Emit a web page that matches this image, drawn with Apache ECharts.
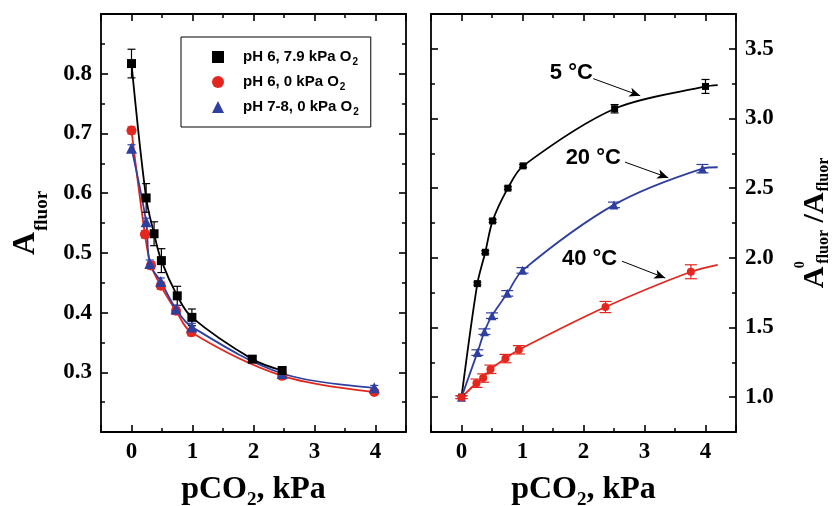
<!DOCTYPE html>
<html><head><meta charset="utf-8">
<script src="https://cdn.jsdelivr.net/npm/echarts@6/dist/echarts.min.js"></script>
<style>html,body{margin:0;padding:0;background:#fff}#c{width:837px;height:506px}</style>
</head><body><div id="c"></div>
<script>
// ---------- Left panel data: A_fluor vs pCO2 ----------
const leftNames = ['pH 6, 7.9 kPa O2', 'pH 6, 0 kPa O2', 'pH 7-8, 0 kPa O2'];
const blkX = [0, 0.24, 0.37, 0.49, 0.75, 0.99, 1.98, 2.47];
const blkY = [0.817, 0.592, 0.532, 0.487, 0.428, 0.392, 0.322, 0.303];
const blkErr = [0.024, 0.024, 0.02, 0.02, 0.016, 0.014, 0.005, 0.005];
const redX = [0, 0.22, 0.32, 0.48, 0.73, 0.98, 2.47, 3.98];
const redY = [0.705, 0.531, 0.479, 0.445, 0.403, 0.367, 0.294, 0.267];
const redErr = [0.006, 0.006, 0.006, 0.006, 0.006, 0.006, 0.005, 0.004];
const bluX = [0, 0.24, 0.30, 0.48, 0.73, 0.99, 2.47, 3.98];
const bluY = [0.675, 0.552, 0.482, 0.452, 0.406, 0.376, 0.298, 0.274];
const bluErr = [0.006, 0.006, 0.006, 0.006, 0.006, 0.006, 0.005, 0.004];

// ---------- Right panel data: A0/A vs pCO2 ----------
const t5X = [0, 0.26, 0.39, 0.51, 0.76, 1.01, 2.51, 4.0];
const t5Y = [1.0, 1.815, 2.04, 2.265, 2.50, 2.66, 3.07, 3.23];
const t5Err = [0.01, 0.01, 0.01, 0.01, 0.01, 0.01, 0.03, 0.05];
const t5End = [4.2, 3.24];
const t20X = [0, 0.26, 0.376, 0.5, 0.75, 1.0, 2.5, 3.95];
const t20Y = [1.0, 1.32, 1.47, 1.585, 1.745, 1.91, 2.38, 2.64];
const t20Err = [0.01, 0.02, 0.02, 0.02, 0.02, 0.02, 0.02, 0.03];
const t20End = [4.2, 2.65];
const t40X = [0, 0.245, 0.355, 0.475, 0.72, 0.94, 2.36, 3.76];
const t40Y = [1.0, 1.10, 1.137, 1.20, 1.277, 1.34, 1.647, 1.90];
const t40Err = [0.01, 0.03, 0.03, 0.03, 0.03, 0.03, 0.04, 0.05];
const t40End = [4.2, 1.95];

// annotations (data coords on right panel)
const annoText = ['5 °C', '20 °C', '40 °C'];
const annoPos = [[1.8, 3.33], [2.16, 2.72], [2.1, 1.99]];
const arrowFrom = [[2.16, 3.286], [2.68, 2.687], [2.63, 1.976]];
const arrowTo = [[2.93, 3.163], [3.39, 2.575], [3.34, 1.855]];

const BLACK = '#000000', RED = '#e3271f', BLUE = '#2f3f9f';
const SERIF = 'Liberation Serif', SANS = 'Liberation Sans';

const zip = (xs, ys) => xs.map((x, i) => [x, ys[i]]);

function errSeries(xi, yi, xs, ys, es, color, cap) {
  return {
    type: 'custom', xAxisIndex: xi, yAxisIndex: yi, silent: true, z: 3,
    data: xs.map((x, i) => [x, ys[i] - es[i], ys[i] + es[i]]),
    renderItem: function (params, api) {
      const lo = api.coord([api.value(0), api.value(1)]);
      const hi = api.coord([api.value(0), api.value(2)]);
      const s = { stroke: color, lineWidth: 1.2 };
      return { type: 'group', children: [
        { type: 'line', shape: { x1: lo[0], y1: lo[1], x2: hi[0], y2: hi[1] }, style: s },
        { type: 'line', shape: { x1: lo[0] - cap, y1: lo[1], x2: lo[0] + cap, y2: lo[1] }, style: s },
        { type: 'line', shape: { x1: hi[0] - cap, y1: hi[1], x2: hi[0] + cap, y2: hi[1] }, style: s }
      ] };
    }
  };
}

const tickLabel = { fontFamily: SERIF, fontWeight: 'bold', fontSize: 23, color: '#000', margin: 9 };
function axisBase(extra) {
  return Object.assign({
    type: 'value',
    axisLine: { show: true, onZero: false, lineStyle: { color: '#000', width: 1.8 } },
    axisTick: { show: true, inside: true, length: 7, lineStyle: { color: '#000', width: 1.6 } },
    minorTick: { show: true, splitNumber: 2, length: 4, lineStyle: { color: '#000', width: 1.5 } },
    splitLine: { show: false }, minorSplitLine: { show: false }
  }, extra);
}
const intFmt = v => (Math.abs(v - Math.round(v)) < 1e-6 ? String(Math.round(v)) : '');
const xName = '{b|pCO}{s|2}{b|, kPa}';
const xNameStyle = {
  fontFamily: SERIF, fontWeight: 'bold', color: '#000',
  rich: {
    b: { fontFamily: SERIF, fontWeight: 'bold', fontSize: 32, lineHeight: 36 },
    s: { fontFamily: SERIF, fontWeight: 'bold', fontSize: 19, lineHeight: 36, padding: [20, 0, 0, 0] }
  }
};

const xAxes = [
  axisBase({ gridIndex: 0, position: 'bottom', min: -0.5, max: 4.5, splitNumber: 5,
    axisLabel: Object.assign({ formatter: intFmt }, tickLabel),
    name: xName, nameLocation: 'middle', nameGap: 40, nameTextStyle: xNameStyle }),
  axisBase({ gridIndex: 0, position: 'top', min: -0.5, max: 4.5, splitNumber: 5, axisLabel: { show: false } }),
  axisBase({ gridIndex: 1, position: 'bottom', min: -0.5, max: 4.5, splitNumber: 5,
    axisLabel: Object.assign({ formatter: intFmt }, tickLabel),
    name: xName, nameLocation: 'middle', nameGap: 40, nameTextStyle: xNameStyle }),
  axisBase({ gridIndex: 1, position: 'top', min: -0.5, max: 4.5, splitNumber: 5, axisLabel: { show: false } })
];
const yAxes = [
  axisBase({ gridIndex: 0, position: 'left', min: 0.2, max: 0.9, interval: 0.1,
    axisLabel: Object.assign({ formatter: v => (v < 0.25 || v > 0.85 ? '' : v.toFixed(1)) }, tickLabel),
    name: '{a|A}{s|fluor}', nameLocation: 'middle', nameRotate: 90, nameGap: 55,
    nameTextStyle: { color: '#000', rich: {
      a: { fontFamily: SERIF, fontWeight: 'bold', fontSize: 32, lineHeight: 40 },
      s: { fontFamily: SERIF, fontWeight: 'bold', fontSize: 19, lineHeight: 40, padding: [32, 0, 0, 1] } } } }),
  axisBase({ gridIndex: 0, position: 'right', min: 0.2, max: 0.9, interval: 0.1, axisLabel: { show: false } }),
  axisBase({ gridIndex: 1, position: 'left', min: 0.75, max: 3.75, splitNumber: 6, axisLabel: { show: false } }),
  axisBase({ gridIndex: 1, position: 'right', min: 0.75, max: 3.75, splitNumber: 6,
    axisLabel: Object.assign({ formatter: v => (v < 0.9 || v > 3.6 ? '' : v.toFixed(1)) }, tickLabel),
    name: '{a|A}{p|0}{s|fluor}{a| /A}{s|fluor}', nameLocation: 'middle', nameRotate: 90, nameGap: 61,
    nameTextStyle: { color: '#000', rich: {
      a: { fontFamily: SERIF, fontWeight: 'bold', fontSize: 30, lineHeight: 36 },
      p: { fontFamily: SERIF, fontWeight: 'bold', fontSize: 14, lineHeight: 36, width: 0, padding: [0, 0, 30, 2] },
      s: { fontFamily: SERIF, fontWeight: 'bold', fontSize: 16, lineHeight: 36, padding: [18, 0, 0, 1] } } } })
];

function lineS(xi, yi, data, color, smooth) {
  return { type: 'line', xAxisIndex: xi, yAxisIndex: yi, data: data, showSymbol: false, symbol: 'none',
    smooth: smooth, lineStyle: { color: color, width: 1.8 }, itemStyle: { color: color }, silent: true, z: 2 };
}
function ptS(name, xi, yi, data, color, symbol, size) {
  return { type: 'scatter', name: name, xAxisIndex: xi, yAxisIndex: yi, data: data, symbol: symbol,
    symbolSize: size, itemStyle: { color: color, opacity: 1 }, z: 4, silent: true };
}

const series = [
  // left panel
  lineS(0, 0, zip(redX, redY), RED, 0.35),
  lineS(0, 0, zip(bluX, bluY), BLUE, 0.35),
  lineS(0, 0, zip(blkX, blkY), BLACK, 0.35),
  errSeries(0, 0, blkX, blkY, blkErr, BLACK, 4),
  errSeries(0, 0, redX, redY, redErr, RED, 4),
  errSeries(0, 0, bluX, bluY, bluErr, BLUE, 4),
  ptS(leftNames[1], 0, 0, zip(redX, redY), RED, 'circle', 10),
  ptS(leftNames[2], 0, 0, zip(bluX, bluY), BLUE, 'triangle', 11),
  ptS(leftNames[0], 0, 0, zip(blkX, blkY), BLACK, 'rect', 9),
  // right panel
  Object.assign(lineS(2, 2, zip(t5X, t5Y).concat([t5End]), BLACK, 0.3), {
    markLine: { silent: true, symbol: ['none', 'arrow'], symbolSize: [7, 11],
      lineStyle: { color: '#000', width: 1, type: 'solid' }, label: { show: false },
      data: arrowFrom.map((f, i) => [{ coord: f }, { coord: arrowTo[i] }]) },
    markPoint: { silent: true, symbol: 'circle', symbolSize: 0,
      label: { show: true, position: 'inside', color: '#000', fontFamily: SANS, fontWeight: 'bold', fontSize: 22,
        formatter: p => p.name },
      data: annoText.map((t, i) => ({ name: t, coord: annoPos[i] })) }
  }),
  lineS(2, 2, zip(t20X, t20Y).concat([t20End]), BLUE, 0.3),
  lineS(2, 2, zip(t40X, t40Y).concat([t40End]), RED, 0.3),
  errSeries(2, 2, t5X, t5Y, t5Err, BLACK, 4),
  errSeries(2, 2, t20X, t20Y, t20Err, BLUE, 6),
  errSeries(2, 2, t40X, t40Y, t40Err, RED, 6),
  ptS('5C', 2, 2, zip(t5X, t5Y), BLACK, 'rect', 7),
  ptS('20C', 2, 2, zip(t20X, t20Y), BLUE, 'triangle', 9),
  ptS('40C', 2, 2, zip(t40X, t40Y), RED, 'circle', 8)
];

const legFmt = n => '{t|' + n.replace(/O2$/, 'O') + '}{s|2}';
const chart = echarts.init(document.getElementById('c'), null, { renderer: 'canvas' });
chart.setOption({
  animation: false,
  backgroundColor: '#fff',
  grid: [
    { left: 101, top: 14, width: 305, height: 418, containLabel: false, outerBoundsMode: 'none' },
    { left: 431, top: 14, width: 305, height: 418, containLabel: false, outerBoundsMode: 'none' }
  ],
  xAxis: xAxes,
  yAxis: yAxes,
  legend: {
    data: [{ name: leftNames[0], icon: 'rect' }, { name: leftNames[1], icon: 'circle' }, { name: leftNames[2], icon: 'triangle' }],
    orient: 'vertical', left: 181, top: 37, selectedMode: false,
    backgroundColor: '#fff', borderColor: '#000', borderWidth: 1, borderRadius: 0,
    padding: [10, 12, 10, 31], itemWidth: 12, itemHeight: 12, itemGap: 5,
    formatter: legFmt,
    textStyle: { color: '#000', fontFamily: SANS, fontWeight: 'bold', fontSize: 15, rich: {
      t: { fontFamily: SANS, fontWeight: 'bold', fontSize: 15, lineHeight: 18, padding: [0, 0, 0, 14] },
      s: { fontFamily: SANS, fontWeight: 'bold', fontSize: 10, lineHeight: 18, padding: [10, 0, 0, 1] } } }
  },
  series: series
});
</script></body></html>
